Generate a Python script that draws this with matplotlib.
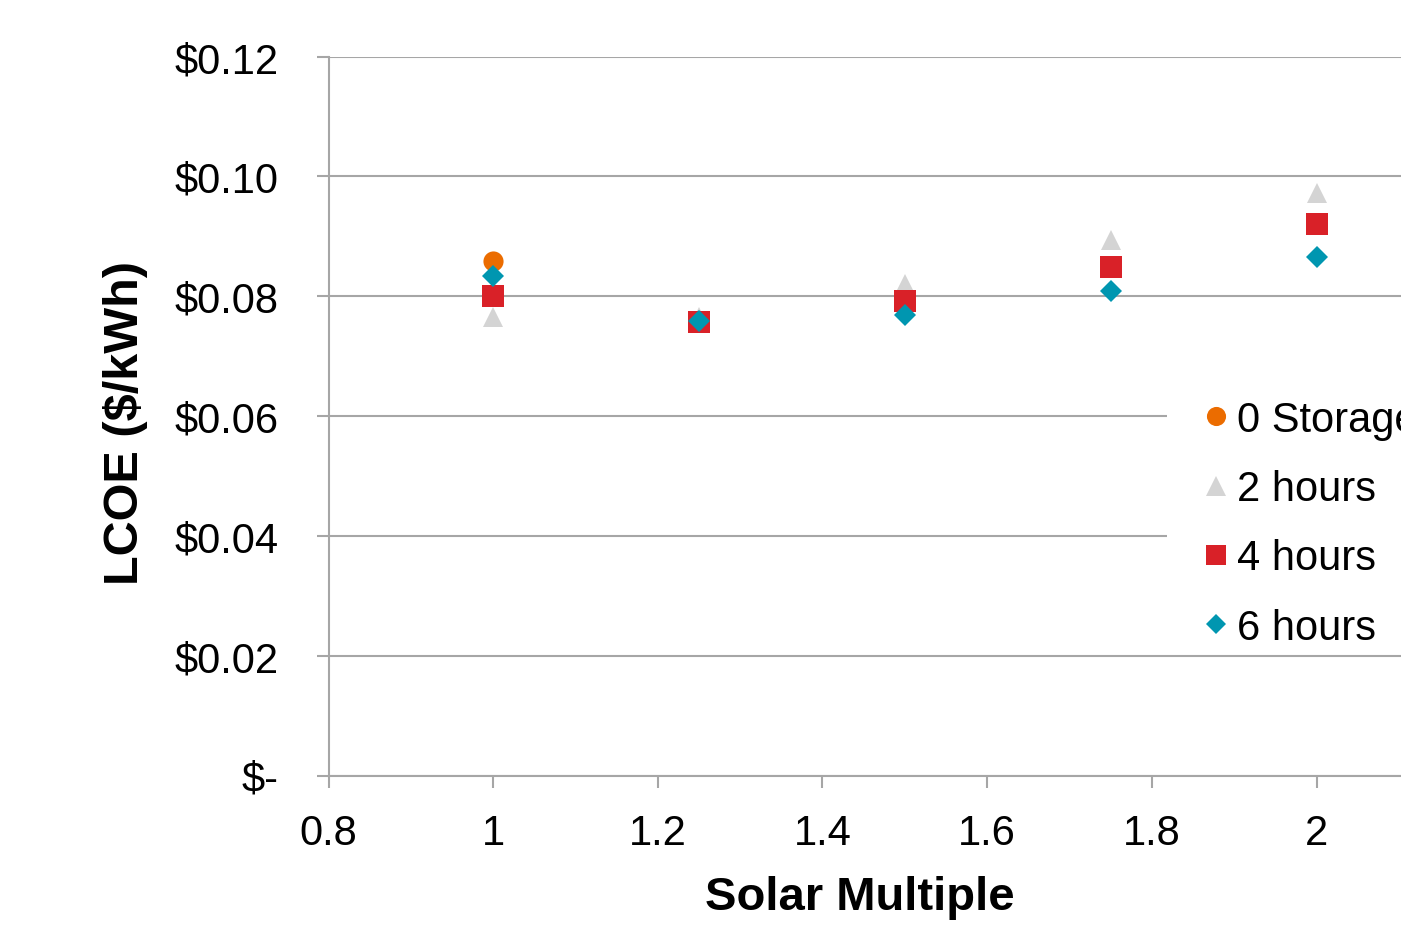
import matplotlib
matplotlib.use("Agg")
import matplotlib.pyplot as plt
from matplotlib.patches import Rectangle
from matplotlib.ticker import FixedLocator, FuncFormatter

plt.rcParams['font.family'] = ['Liberation Sans', 'DejaVu Sans']

# Data
x0 = [1.0]
y0 = [0.0858]
x_all = [1.0, 1.25, 1.5, 1.75, 2.0]
y2 = [0.0765, 0.0765, 0.0821, 0.0893, 0.0973]
y4 = [0.0801, 0.0757, 0.0792, 0.0849, 0.0920]
y6 = [0.0833, 0.0758, 0.0769, 0.0809, 0.0865]
labels = ["0 Storage", "2 hours", "4 hours", "6 hours"]
xticks = [0.8, 1.0, 1.2, 1.4, 1.6, 1.8, 2.0]
xticklabels = ["0.8", "1", "1.2", "1.4", "1.6", "1.8", "2"]
yticks = [0.0, 0.02, 0.04, 0.06, 0.08, 0.10, 0.12]

W, H = 1401, 928
fig = plt.figure(figsize=(W / 100, H / 100), dpi=100)
ax_left, ax_right = 328.5, 328.5 + 1.4 * (1316 - 328) / 1.2
ax_top, ax_bot = 57.5, 776.5
ax = fig.add_axes([ax_left / W, 1 - ax_bot / H, (ax_right - ax_left) / W, (ax_bot - ax_top) / H])
ax.set_xlim(0.8, 2.2)
ax.set_ylim(0, 0.12)

grid_c = '#a6a6a6'
ax.yaxis.set_major_locator(FixedLocator(yticks))
ax.xaxis.set_major_locator(FixedLocator(xticks))
ax.set_xticklabels(xticklabels)
ax.yaxis.set_major_formatter(FuncFormatter(lambda v, p: "$-" if abs(v) < 1e-9 else f"${v:.2f}"))
ax.grid(axis='y', color=grid_c, linewidth=1.5, zorder=0)
ax.set_axisbelow(True)
for s in ['top', 'right']:
    ax.spines[s].set_visible(False)
for s in ['left', 'bottom']:
    ax.spines[s].set_color(grid_c)
    ax.spines[s].set_linewidth(1.5)
ax.tick_params(axis='both', direction='out', length=8.8, width=1.5, color=grid_c,
               labelsize=30, labelcolor='black')
ax.tick_params(axis='y', pad=27)
ax.tick_params(axis='x', pad=18)

c_orange = '#EB6C00'
c_gray = '#D4D4D4'
c_red = '#D92128'
c_teal = '#0096B0'

ax.plot(x0, y0, 'o', color=c_orange, markersize=14.5, markeredgewidth=0, label=labels[0], zorder=3)
ax.plot(x_all, y2, '^', color=c_gray, markersize=15, markeredgewidth=0, label=labels[1], zorder=3)
ax.plot(x_all, y4, 's', color=c_red, markersize=15.5, markeredgewidth=0, label=labels[2], zorder=3)
ax.plot(x_all, y6, 'D', color=c_teal, markersize=11, markeredgewidth=0, label=labels[3], zorder=3)

# white legend background box
bg = Rectangle((1167 / W, 1 - 648 / H), (W - 1167) / W + 0.05, (648 - 365) / H,
               transform=fig.transFigure, facecolor='white', edgecolor='none', zorder=2)
ax.add_patch(bg)

leg = ax.legend(loc='upper left', bbox_to_anchor=(1206 / W, 1 - 401 / H),
                bbox_transform=fig.transFigure, borderaxespad=0,
                fontsize=30, frameon=False, borderpad=0,
                handlelength=0.5, handletextpad=0.25, labelspacing=0.70,
                markerscale=0.95)

fig.text(860 / W, 1 - 910 / H, "Solar Multiple", ha='center', va='baseline',
         fontsize=34, fontweight='bold')
fig.text(126 / W, 1 - 423 / H, "LCOE ($/kWh)", ha='center', va='center',
         rotation=90, fontsize=35, fontweight='bold')

fig.savefig("out.png", dpi=100)
